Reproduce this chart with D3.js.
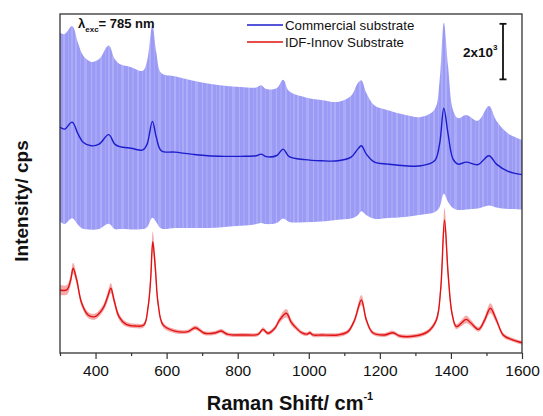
<!DOCTYPE html>
<html>
<head>
<meta charset="utf-8">
<script src="https://cdn.jsdelivr.net/npm/d3@7"></script>
<style>
  body { margin: 0; background: #fff; }
  text { font-family: "Liberation Sans", Arial, sans-serif; }
</style>
</head>
<body>
<script>
// Raman spectra, 785 nm excitation : mean (+/- sd) of both substrates
var blueShift = [300, 313, 334, 351, 365, 388, 410, 437, 454, 468, 500, 533, 545, 560, 571, 585, 623, 669, 716, 763,
  809, 852, 866, 880, 910, 928, 945, 989, 1035, 1082, 1119, 1138, 1148, 1162, 1185, 1223, 1270, 1316, 1354, 1368,
  1380, 1392, 1406, 1420, 1443, 1476, 1507, 1528, 1561, 1600]
var blueMean = [8130, 8060, 8310, 7880, 7590, 7460, 7520, 7860, 7520, 7430, 7370, 7310, 7520, 8340, 7770, 7280, 7230, 7160, 7100, 7080,
  7080, 7100, 7160, 7070, 7110, 7340, 7070, 6960, 6920, 6920, 7050, 7340, 7460, 7160, 6870, 6800, 6740, 6740, 6920, 7520,
  8810, 7880, 6980, 6800, 6870, 6780, 7100, 6800, 6540, 6420]
var blueSd = [3400, 3420, 3460, 3270, 3120, 3020, 3060, 3210, 3060, 2970, 2920, 2850, 2990, 3470, 3060, 2800, 2730, 2660, 2600, 2540,
  2500, 2460, 2480, 2430, 2430, 2500, 2350, 2250, 2190, 2120, 2210, 2380, 2360, 2200, 2040, 1940, 1840, 1760, 1850, 2270,
  3080, 2440, 1760, 1650, 1700, 1580, 1790, 1560, 1360, 1250]

var redShift = [300, 319, 330, 337, 347, 361, 379, 398, 421, 433, 443, 452, 466, 485, 513, 536, 548, 555, 561, 568,
  576, 590, 623, 660, 681, 707, 735, 754, 772, 819, 857, 871, 885, 905, 918, 937, 950, 961, 980, 995,
  1003, 1012, 1035, 1082, 1110, 1129, 1148, 1162, 1180, 1213, 1237, 1256, 1298, 1335, 1359, 1371, 1382, 1392, 1403, 1415,
  1429, 1443, 1457, 1478, 1495, 1511, 1528, 1547, 1570, 1600]
var redMean = [2270, 2270, 2630, 3050, 2630, 1790, 1370, 1310, 1610, 1980, 2330, 1910, 1310, 1040, 970, 1010, 1670, 2630, 4010, 3110,
  1790, 1010, 790, 770, 910, 710, 720, 790, 670, 650, 670, 850, 710, 900, 1190, 1430, 1120, 950, 730, 680,
  730, 650, 650, 650, 770, 1190, 1910, 1190, 730, 650, 730, 610, 610, 770, 1190, 2270, 4790, 2870, 1430, 950,
  1070, 1210, 1070, 850, 1190, 1610, 1190, 650, 490, 370]
var redSd = [180, 170, 190, 200, 170, 120, 110, 110, 120, 160, 180, 150, 110, 90, 80, 80, 140, 250, 360, 300,
  150, 90, 75, 70, 80, 70, 70, 75, 70, 70, 70, 80, 70, 80, 110, 150, 110, 90, 75, 70,
  75, 70, 70, 70, 75, 110, 180, 110, 75, 70, 75, 70, 70, 75, 110, 220, 430, 280, 130, 90,
  110, 140, 110, 85, 120, 180, 120, 80, 70, 70]

var majorTicks = [400, 600, 800, 1000, 1200, 1400, 1600]
var minorTicks = [300, 500, 700, 900, 1100, 1300, 1500]
var seriesNames = ["Commercial substrate", "IDF-Innov Substrate"]
var seriesColors = ["#1c1ccc", "#e01212"]
var scaleBarValue = 2000
var scaleBarBase = 9850

var width = 543, height = 416
var margin = {top: 14, right: 21, bottom: 63, left: 60}

var svg = d3.select("body").append("svg")
  .attr("width", width)
  .attr("height", height)

var x = d3.scaleLinear().domain([300, 1600]).range([margin.left, width - margin.right])
var y = d3.scaleLinear().domain([0, 12204]).range([height - margin.bottom, margin.top])

var blue = blueShift.map(function(s, i) { return {s: s, m: blueMean[i], sd: blueSd[i]} })
var red = redShift.map(function(s, i) { return {s: s, m: redMean[i], sd: redSd[i]} })

// striped look of the shaded band
var defs = svg.append("defs")
var pat = defs.append("pattern")
  .attr("id", "stripes")
  .attr("patternUnits", "userSpaceOnUse")
  .attr("width", 37).attr("height", 10)
pat.append("rect").attr("width", 37).attr("height", 10).attr("fill", "#9b9bf6")
;[[1, 2, 0.18], [6, 1, 0.12], [10, 3, 0.16], [17, 1, 0.22], [21, 2, 0.1], [26, 2, 0.18], [31, 1, 0.12], [34, 2, 0.15]].forEach(function(d) {
  pat.append("rect").attr("x", d[0]).attr("width", d[1]).attr("height", 10)
    .attr("fill", "#fff").attr("opacity", d[2])
})

var curve = d3.curveCatmullRom.alpha(0.5)
var band = d3.area()
  .x(function(d) { return x(d.s) })
  .y0(function(d) { return y(d.m - d.sd) })
  .y1(function(d) { return y(d.m + d.sd) })
  .curve(curve)
var line = d3.line()
  .x(function(d) { return x(d.s) })
  .y(function(d) { return y(d.m) })
  .curve(curve)

svg.append("path").datum(blue).attr("d", band).attr("fill", "url(#stripes)")
svg.append("path").datum(blue).attr("d", line)
  .attr("fill", "none").attr("stroke", seriesColors[0]).attr("stroke-width", 1.4)
svg.append("path").datum(red).attr("d", band).attr("fill", "#f49a9a").attr("opacity", 0.85)
svg.append("path").datum(red).attr("d", line)
  .attr("fill", "none").attr("stroke", seriesColors[1]).attr("stroke-width", 1.4)

// axes
var xAxis = svg.append("g")
  .attr("transform", "translate(0," + (height - margin.bottom) + ")")
  .call(d3.axisBottom(x).tickValues(majorTicks).tickSize(6).tickPadding(6).tickFormat(d3.format("d")))
xAxis.selectAll("text").attr("font-size", "15.5px").attr("fill", "#111")
  .style("font-family", "'Liberation Sans', Arial, sans-serif")
xAxis.select(".domain").remove()
xAxis.selectAll("line").attr("stroke", "#333").attr("stroke-width", 1.2)

var xMinor = svg.append("g")
  .attr("transform", "translate(0," + (height - margin.bottom) + ")")
  .call(d3.axisBottom(x).tickValues(minorTicks).tickSize(3).tickFormat(""))
xMinor.select(".domain").remove()
xMinor.selectAll("line").attr("stroke", "#333").attr("stroke-width", 1.2)

svg.append("rect")
  .attr("x", margin.left).attr("y", margin.top)
  .attr("width", width - margin.left - margin.right)
  .attr("height", height - margin.top - margin.bottom)
  .attr("fill", "none").attr("stroke", "#333").attr("stroke-width", 1.3)

// axis titles
var xt = svg.append("text")
  .attr("x", 290).attr("y", 410)
  .attr("text-anchor", "middle")
  .attr("font-weight", "bold").attr("font-size", "20px").attr("fill", "#111")
xt.append("tspan").text("Raman Shift/ cm")
xt.append("tspan").attr("font-size", "11px").attr("dy", -10).text("-1")

svg.append("text")
  .attr("transform", "translate(28,201) rotate(-90)")
  .attr("text-anchor", "middle")
  .attr("font-weight", "bold").attr("font-size", "19px").attr("fill", "#111")
  .text("Intensity/ cps")

// excitation label
var lt = svg.append("text")
  .attr("x", 78).attr("y", 28)
  .attr("font-weight", "bold").attr("font-size", "13px").attr("fill", "#111")
lt.append("tspan").text("\u03bb")
lt.append("tspan").attr("font-size", "8px").attr("dy", 4).text("exc")
lt.append("tspan").attr("dy", -4).text("= 785 nm")

// legend
var legend = svg.append("g")
seriesNames.forEach(function(name, i) {
  var ly = 25 + i * 17
  legend.append("line")
    .attr("x1", 247).attr("x2", 283).attr("y1", ly).attr("y2", ly)
    .attr("stroke", seriesColors[i]).attr("stroke-width", 1.6)
  legend.append("text")
    .attr("x", 285).attr("y", ly + 4.5)
    .attr("font-size", "13.3px").attr("fill", "#111")
    .text(name)
})

// intensity scale bar
var sb = svg.append("g").attr("stroke", "#111").attr("stroke-width", 1.8)
var sbx = 503
sb.append("line").attr("x1", sbx).attr("x2", sbx)
  .attr("y1", y(scaleBarBase)).attr("y2", y(scaleBarBase + scaleBarValue))
sb.append("line").attr("x1", sbx - 3.5).attr("x2", sbx + 3.5)
  .attr("y1", y(scaleBarBase)).attr("y2", y(scaleBarBase))
sb.append("line").attr("x1", sbx - 3.5).attr("x2", sbx + 3.5)
  .attr("y1", y(scaleBarBase + scaleBarValue)).attr("y2", y(scaleBarBase + scaleBarValue))
var st = svg.append("text")
  .attr("x", 463).attr("y", y(scaleBarBase + scaleBarValue / 2) + 5)
  .attr("font-weight", "bold").attr("font-size", "13.5px").attr("fill", "#111")
st.append("tspan").text("2x10")
st.append("tspan").attr("font-size", "8px").attr("dy", -7).text("3")
</script>
</body>
</html>
